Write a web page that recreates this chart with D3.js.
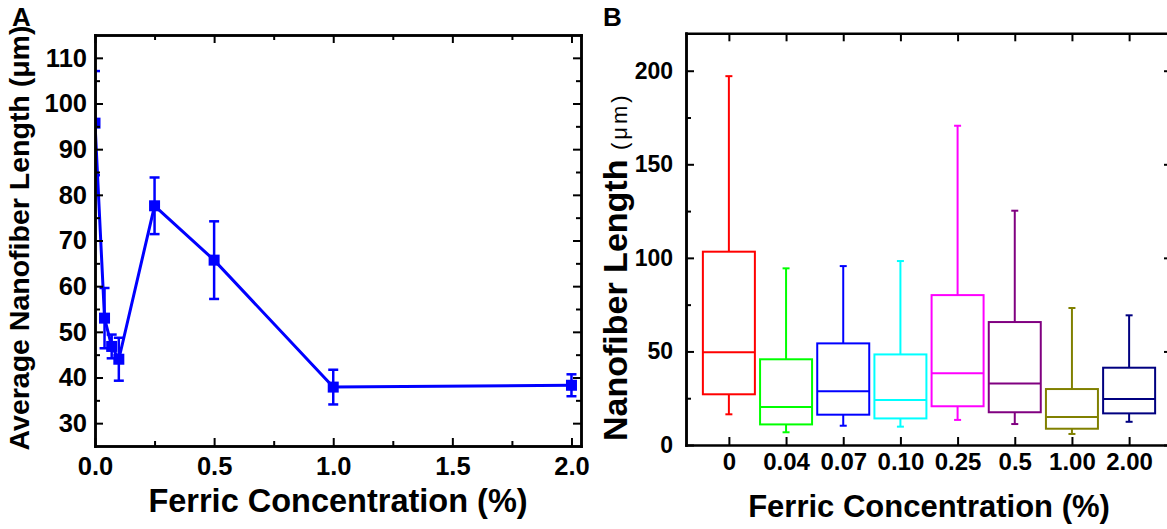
<!DOCTYPE html>
<html>
<head>
<meta charset="utf-8">
<script src="https://cdn.jsdelivr.net/npm/d3@7"></script>
<style>
body{margin:0;background:#fff}
svg{display:block;background:#fff;font-family:"Liberation Sans",Arial,sans-serif;font-weight:bold}
.axis path{stroke:#000;stroke-width:2.5;stroke-linecap:square}
.axis line{stroke:#000;stroke-width:2}
.axis text{font-family:"Liberation Sans",Arial,sans-serif;font-weight:bold;fill:#000}
</style>
</head>
<body>
<svg></svg>
<script>
// panel A: mean length vs concentration
var concA = [0, 0.04, 0.07, 0.10, 0.25, 0.5, 1.0, 2.0];
var meanA = [95.7, 53.0, 46.8, 44.0, 77.6, 65.7, 37.9, 38.3];
var errA  = [11.4, 6.6, 2.6, 4.7, 6.2, 8.5, 3.8, 2.4];
var xTicksA = [0, 0.5, 1.0, 1.5, 2.0];
var xMinorA = [0.25, 0.75, 1.25, 1.75];
var yTicksA = [30, 40, 50, 60, 70, 80, 90, 100, 110];
var yMinorA = [35, 45, 55, 65, 75, 85, 95, 105];

// panel B: box plots
var catB    = ["0", "0.04", "0.07", "0.10", "0.25", "0.5", "1.00", "2.00"];
var lowB    = [16.4, 6.8, 10.3, 9.8, 13.4, 11.2, 5.9, 12.4];
var q1B     = [27.1, 11.0, 16.2, 14.2, 20.7, 17.5, 8.7, 16.9];
var medB    = [49.5, 20.3, 28.7, 24.0, 38.3, 32.8, 15.0, 24.6];
var q3B     = [103.3, 45.8, 54.3, 48.4, 80.1, 65.7, 29.9, 41.3];
var highB   = [197.1, 94.4, 95.6, 98.3, 170.6, 125.2, 73.2, 69.3];
var colorB  = ["#ff0000", "#00ff00", "#0000ff", "#00ffff", "#ff00ff", "#800080", "#808000", "#000080"];
var yTicksB = [0, 50, 100, 150, 200];
var yMinorB = [25, 75, 125, 175];

var svg = d3.select("svg").attr("width", 1167).attr("height", 529);

function addAxis(axis, tx, ty, fs){
  var g = svg.append("g").attr("class","axis")
    .attr("transform","translate("+tx+","+ty+")")
    .call(axis);
  g.selectAll("text").style("font-size", fs+"px");
  return g;
}

// ---------- A ----------
var xA = d3.scaleLinear().domain([0, 2.04]).range([95, 581]);
var yA = d3.scaleLinear().domain([25, 115]).range([446, 35]);

svg.append("clipPath").attr("id","clipA").append("rect")
  .attr("x",95).attr("y",35).attr("width",486).attr("height",411);

var gA = svg.append("g").attr("clip-path","url(#clipA)");
var ptsA = concA.map((c,i)=>({c:c, m:meanA[i], e:errA[i]}));

gA.append("path").datum(ptsA)
  .attr("fill","none").attr("stroke","#0000ff").attr("stroke-width",3)
  .attr("d", d3.line().x(d=>xA(d.c)).y(d=>yA(d.m)));

var eb = gA.selectAll(".eb").data(ptsA).enter().append("g")
  .attr("stroke","#0000ff").attr("stroke-width",2.5);
eb.append("line").attr("x1",d=>xA(d.c)).attr("x2",d=>xA(d.c))
  .attr("y1",d=>yA(d.m-d.e)).attr("y2",d=>yA(d.m+d.e));
eb.append("line").attr("x1",d=>xA(d.c)-5).attr("x2",d=>xA(d.c)+5)
  .attr("y1",d=>yA(d.m+d.e)).attr("y2",d=>yA(d.m+d.e));
eb.append("line").attr("x1",d=>xA(d.c)-5).attr("x2",d=>xA(d.c)+5)
  .attr("y1",d=>yA(d.m-d.e)).attr("y2",d=>yA(d.m-d.e));

gA.selectAll(".pt").data(ptsA).enter().append("rect")
  .attr("x",d=>xA(d.c)-5.5).attr("y",d=>yA(d.m)-5.5)
  .attr("width",11).attr("height",11).attr("fill","#0000ff");

addAxis(d3.axisBottom(xA).tickValues(xTicksA).tickFormat(d3.format(".1f")).tickSize(-8).tickSizeOuter(0).tickPadding(11), 0, 446, 25.5);
addAxis(d3.axisBottom(xA).tickValues(xMinorA).tickFormat("").tickSize(-5).tickSizeOuter(0), 0, 446, 24);
addAxis(d3.axisBottom(xA).tickValues(xTicksA).tickFormat("").tickSize(8).tickSizeOuter(0), 0, 35, 24);
addAxis(d3.axisBottom(xA).tickValues(xMinorA).tickFormat("").tickSize(5).tickSizeOuter(0), 0, 35, 24);
addAxis(d3.axisLeft(yA).tickValues(yTicksA).tickSize(-8).tickSizeOuter(0).tickPadding(8), 95, 0, 25.5);
addAxis(d3.axisLeft(yA).tickValues(yMinorA).tickFormat("").tickSize(-5).tickSizeOuter(0), 95, 0, 24);
addAxis(d3.axisLeft(yA).tickValues(yTicksA).tickFormat("").tickSize(8).tickSizeOuter(0), 581, 0, 24);
addAxis(d3.axisLeft(yA).tickValues(yMinorA).tickFormat("").tickSize(5).tickSizeOuter(0), 581, 0, 24);

svg.append("text").attr("x",338).attr("y",512).attr("text-anchor","middle")
  .style("font-size","32.5px").text("Ferric Concentration (%)");
svg.append("text").attr("transform","translate(29,238) rotate(-90)").attr("text-anchor","middle")
  .style("font-size","28.5px").text("Average Nanofiber Length (\u03bcm)");
svg.append("text").attr("x",12).attr("y",26).style("font-size","26px").text("A");

// ---------- B ----------
var xB = d3.scalePoint().domain(catB).range([686, 1172]).padding(0.75);
var yB = d3.scaleLinear().domain([0, 220]).range([445, 33.3]);
var boxW = 52;

var boxes = catB.map((c,i)=>({c:c, lo:lowB[i], q1:q1B[i], md:medB[i], q3:q3B[i], hi:highB[i], col:colorB[i]}));
var bx = svg.selectAll(".box").data(boxes).enter().append("g")
  .attr("stroke",d=>d.col).attr("stroke-width",2).attr("fill","none");
bx.append("rect").attr("x",d=>xB(d.c)-boxW/2).attr("width",boxW)
  .attr("y",d=>yB(d.q3)).attr("height",d=>yB(d.q1)-yB(d.q3));
bx.append("line").attr("x1",d=>xB(d.c)-boxW/2).attr("x2",d=>xB(d.c)+boxW/2)
  .attr("y1",d=>yB(d.md)).attr("y2",d=>yB(d.md));
bx.append("line").attr("x1",d=>xB(d.c)).attr("x2",d=>xB(d.c))
  .attr("y1",d=>yB(d.q3)).attr("y2",d=>yB(d.hi));
bx.append("line").attr("x1",d=>xB(d.c)).attr("x2",d=>xB(d.c))
  .attr("y1",d=>yB(d.q1)).attr("y2",d=>yB(d.lo));
bx.append("line").attr("x1",d=>xB(d.c)-3.5).attr("x2",d=>xB(d.c)+3.5)
  .attr("y1",d=>yB(d.hi)).attr("y2",d=>yB(d.hi));
bx.append("line").attr("x1",d=>xB(d.c)-3.5).attr("x2",d=>xB(d.c)+3.5)
  .attr("y1",d=>yB(d.lo)).attr("y2",d=>yB(d.lo));

addAxis(d3.axisBottom(xB).tickSize(-8).tickSizeOuter(0).tickPadding(8), 0, 445, 24);
addAxis(d3.axisBottom(xB).tickFormat("").tickSize(8).tickSizeOuter(0), 0, 33.3, 24);
addAxis(d3.axisLeft(yB).tickValues(yTicksB).tickSize(-8).tickSizeOuter(0).tickPadding(13), 686, 0, 23);
addAxis(d3.axisLeft(yB).tickValues(yMinorB).tickFormat("").tickSize(-5).tickSizeOuter(0), 686, 0, 23);
addAxis(d3.axisLeft(yB).tickValues(yTicksB).tickFormat("").tickSize(8).tickSizeOuter(0), 1172, 0, 23);
addAxis(d3.axisLeft(yB).tickValues(yMinorB).tickFormat("").tickSize(5).tickSizeOuter(0), 1172, 0, 23);

svg.append("text").attr("x",929).attr("y",517).attr("text-anchor","middle")
  .style("font-size","31px").text("Ferric Concentration (%)");
var ytB = svg.append("text").attr("transform","translate(627,441) rotate(-90)")
  .style("font-size","34px").text("Nanofiber Length ");
ytB.append("tspan").style("font-size","22px").style("font-weight","normal")
  .style("letter-spacing","3px").text("(\u03bcm)");
svg.append("text").attr("x",603).attr("y",26).style("font-size","26px").text("B");
</script>
</body>
</html>
